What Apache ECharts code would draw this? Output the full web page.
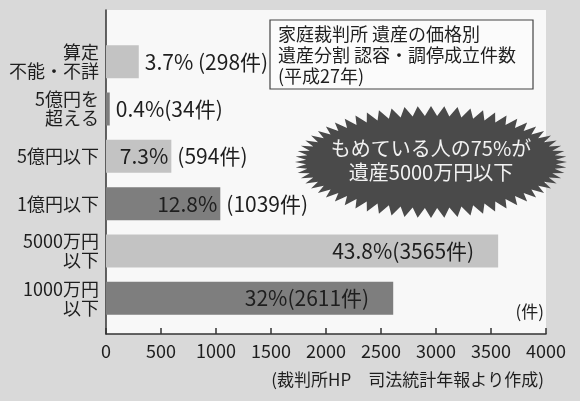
<!DOCTYPE html>
<html>
<head>
<meta charset="utf-8">
<script src="https://cdn.jsdelivr.net/npm/echarts@6/dist/echarts.min.js"></script>
<style>
  html, body { margin: 0; padding: 0; background: #d9d9d9; }
  #chart { width: 580px; height: 401px; }
</style>
</head>
<body>
<div id="chart"></div>
<script>
// 遺産の価格別 遺産分割 認容・調停成立件数（平成27年）
const categories = ['算定\n不能・不詳', '5億円を\n超える', '5億円以下', '1億円以下', '5000万円\n以下', '1000万円\n以下'];
const counts = [298, 34, 594, 1039, 3565, 2611];
const shares = ['3.7', '0.4', '7.3', '12.8', '43.8', '32'];
const xTicks = [0, 4000, 500];

// 見た目だけの設定（濃淡とラベル位置）
const shades = ['#c3c3c3', '#7e7e7e', '#c3c3c3', '#7e7e7e', '#c3c3c3', '#7e7e7e'];
const labelModes = ['out', 'out', 'split', 'split', 'in', 'in'];

const FONT = '"Noto Sans CJK JP", "Noto Sans", sans-serif';
const TXT = '#1e1e1e';

const pctText = i => shares[i] + '%';
const cntText = i => '(' + counts[i] + '件)';
const fullText = i => pctText(i) + (i === 0 ? ' ' : '') + cntText(i);

// 星形（装飾）
function starPoints(cx, cy, rx, ry, ix, iy, n) {
    const pts = [];
    for (let i = 0; i < n * 2; i++) {
        const a = Math.PI * i / n;
        const outer = i % 2 === 0;
        pts.push([cx + Math.cos(a) * (outer ? rx : ix), cy + Math.sin(a) * (outer ? ry : iy)]);
    }
    return pts;
}

const chart = echarts.init(document.getElementById('chart'));

chart.setOption({
    backgroundColor: '#d9d9d9',
    animation: false,
    textStyle: { fontFamily: FONT },
    grid: [
        // 枠と軸線用
        { left: 106, top: 10, width: 440, height: 324, show: true, backgroundColor: '#f8f8f8', borderWidth: 0 },
        // 棒用
        { left: 106, top: 38, width: 440, height: 284 }
    ],
    xAxis: [
        {
            gridIndex: 0, type: 'value', min: xTicks[0], max: xTicks[1], interval: xTicks[2],
            axisLine: { show: true, lineStyle: { color: '#333', width: 1.5 } },
            axisTick: { show: true, inside: true, length: 6, lineStyle: { color: '#333', width: 1.5 } },
            axisLabel: { color: TXT, fontSize: 18, margin: 8, fontFamily: FONT, formatter: v => String(v) },
            splitLine: { show: false }
        },
        { gridIndex: 1, type: 'value', min: xTicks[0], max: xTicks[1], show: false }
    ],
    yAxis: [
        {
            gridIndex: 0, type: 'value', min: 0, max: 1,
            axisLine: { show: true, lineStyle: { color: '#333', width: 1.5 } },
            axisTick: { show: false }, axisLabel: { show: false }, splitLine: { show: false }
        },
        {
            gridIndex: 1, type: 'category', inverse: true, data: categories,
            axisLine: { show: false }, axisTick: { show: false },
            axisLabel: { color: TXT, fontSize: 18, lineHeight: 19, margin: 7, align: 'right', fontFamily: FONT }
        }
    ],
    series: [
        {
            type: 'bar', xAxisIndex: 1, yAxisIndex: 1, barWidth: 33,
            data: counts.map((v, i) => ({
                value: v,
                itemStyle: { color: shades[i] },
                label: { distance: labelModes[i] === 'in' ? 24 : 3 }
            })),
            label: {
                show: true, position: 'insideRight', color: TXT, fontSize: 21, fontFamily: FONT,
                formatter: p => labelModes[p.dataIndex] === 'in' ? fullText(p.dataIndex)
                    : labelModes[p.dataIndex] === 'split' ? pctText(p.dataIndex) : ''
            }
        },
        {
            type: 'bar', xAxisIndex: 1, yAxisIndex: 1, barWidth: 33, barGap: '-100%',
            itemStyle: { color: 'rgba(0,0,0,0)' },
            data: counts,
            label: {
                show: true, position: 'right', distance: 6, color: TXT, fontSize: 21, fontFamily: FONT,
                formatter: p => labelModes[p.dataIndex] === 'out' ? fullText(p.dataIndex)
                    : labelModes[p.dataIndex] === 'split' ? cntText(p.dataIndex) : ''
            }
        }
    ],
    graphic: [
        {
            type: 'rect', z: 10,
            shape: { x: 270, y: 20, width: 263, height: 69 },
            style: { fill: '#fbfbfb', stroke: '#444', lineWidth: 1.2 }
        },
        {
            type: 'text', z: 11, left: 278, top: 24,
            style: {
                text: '家庭裁判所 遺産の価格別\n遺産分割 認容・調停成立件数\n(平成27年)',
                font: '18px ' + FONT, lineHeight: 21, fill: TXT
            }
        },
        {
            type: 'polygon', z: 10,
            shape: { points: starPoints(431, 162, 136, 56, 125, 46, 64) },
            style: { fill: '#4a4a4a' }
        },
        {
            type: 'text', z: 11, x: 431, y: 160,
            style: {
                text: 'もめている人の75%が\n遺産5000万円以下',
                font: '20px ' + FONT, lineHeight: 24, fill: '#f2f2f2',
                textAlign: 'center', textVerticalAlign: 'middle'
            }
        },
        {
            type: 'text', z: 11, right: 36, top: 303,
            style: { text: '(件)', font: '17px ' + FONT, fill: TXT }
        },
        {
            type: 'text', z: 11, right: 36, top: 371,
            style: { text: '(裁判所HP　司法統計年報より作成)', font: '17px ' + FONT, fill: TXT }
        }
    ]
});
</script>
</body>
</html>
